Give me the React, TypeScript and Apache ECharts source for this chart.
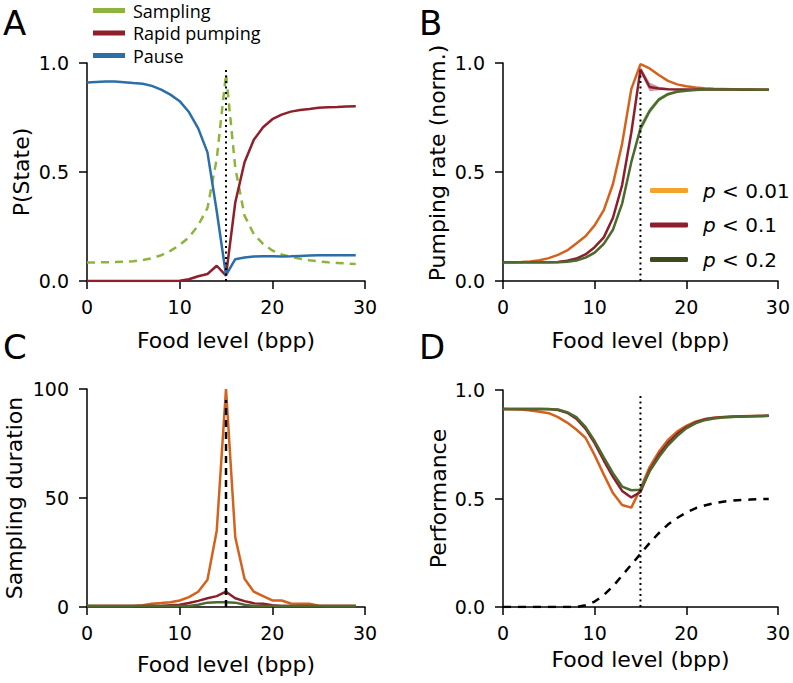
import React, { useEffect, useRef } from "react";
import * as echarts from "echarts";

const foodLevel = [0, 1, 2, 3, 4, 5, 6, 7, 8, 9, 10, 11, 12, 13, 14, 15, 16, 17, 18, 19, 20, 21, 22, 23, 24, 25, 26, 27, 28, 29];

// Panel A: P(State)
const samplingA = [0.085, 0.085, 0.086, 0.087, 0.088, 0.091, 0.096, 0.104, 0.118, 0.138, 0.165, 0.2, 0.255, 0.335, 0.56, 0.95, 0.52, 0.3, 0.215, 0.17, 0.14, 0.122, 0.11, 0.102, 0.095, 0.09, 0.086, 0.083, 0.08, 0.078];
const rapidA = [0, 0, 0, 0, 0, 0, 0, 0, 0, 0, 0.001, 0.008, 0.022, 0.032, 0.07, 0.025, 0.36, 0.545, 0.648, 0.705, 0.742, 0.763, 0.777, 0.784, 0.789, 0.795, 0.797, 0.798, 0.8, 0.802];
const pauseA = [0.911, 0.913, 0.915, 0.915, 0.912, 0.908, 0.905, 0.895, 0.878, 0.855, 0.825, 0.775, 0.7, 0.59, 0.32, 0.027, 0.1, 0.108, 0.112, 0.113, 0.113, 0.112, 0.113, 0.115, 0.117, 0.118, 0.118, 0.118, 0.118, 0.118];
const vlineA = [0, 0.975];

// Panel B: Pumping rate (norm.)
const pumpP001 = [0.086, 0.086, 0.087, 0.089, 0.095, 0.105, 0.12, 0.14, 0.172, 0.205, 0.255, 0.325, 0.445, 0.63, 0.88, 0.995, 0.975, 0.945, 0.918, 0.902, 0.893, 0.888, 0.884, 0.882, 0.881, 0.88, 0.879, 0.878, 0.877, 0.877];
const pumpP01 = [0.086, 0.086, 0.086, 0.086, 0.086, 0.086, 0.087, 0.093, 0.103, 0.122, 0.155, 0.2, 0.29, 0.44, 0.68, 0.97, 0.89, 0.883, 0.88, 0.879, 0.879, 0.879, 0.878, 0.878, 0.878, 0.878, 0.877, 0.877, 0.877, 0.877];
const pumpP02 = [0.086, 0.086, 0.086, 0.086, 0.086, 0.086, 0.086, 0.088, 0.094, 0.107, 0.13, 0.17, 0.235, 0.355, 0.545, 0.7, 0.78, 0.832, 0.857, 0.868, 0.873, 0.876, 0.878, 0.878, 0.878, 0.878, 0.878, 0.878, 0.877, 0.877];
const bandP01 = [0.002, 0.002, 0.002, 0.002, 0.002, 0.002, 0.002, 0.002, 0.003, 0.003, 0.004, 0.004, 0.005, 0.006, 0.008, 0.015, 0.02, 0.008, 0.004, 0.003, 0.002, 0.002, 0.002, 0.002, 0.002, 0.002, 0.002, 0.002, 0.002, 0.002];
const bandP02 = [0.002, 0.002, 0.002, 0.002, 0.002, 0.002, 0.002, 0.003, 0.004, 0.005, 0.006, 0.007, 0.008, 0.009, 0.01, 0.02, 0.015, 0.01, 0.008, 0.005, 0.003, 0.002, 0.002, 0.002, 0.002, 0.002, 0.002, 0.002, 0.002, 0.002];
const vlineB = [0, 0.96];

// Panel C: Sampling duration
const durP001 = [0.5, 0.5, 0.5, 0.5, 0.5, 0.5, 0.8, 1.5, 1.8, 2.2, 3, 4.5, 7, 12.5, 35, 100, 32, 13, 7, 5, 3, 3, 1.6, 1.5, 1.5, 0.6, 0.5, 0.5, 0.5, 0.5];
const durP01 = [0.5, 0.5, 0.5, 0.5, 0.5, 0.5, 0.5, 0.5, 0.5, 0.8, 1, 1.8, 2.8, 4, 5, 7, 4, 2.7, 1.7, 1.5, 0.8, 0.5, 0.5, 0.5, 0.5, 0.5, 0.5, 0.5, 0.5, 0.5];
const durP02 = [0.5, 0.5, 0.5, 0.5, 0.5, 0.5, 0.5, 0.5, 0.5, 0.5, 0.5, 0.5, 1, 2, 2.2, 2.2, 2, 1, 0.5, 0.5, 0.5, 0.5, 0.5, 0.5, 0.5, 0.5, 0.5, 0.5, 0.5, 0.5];
const vlineC = [0, 95];

// Panel D: Performance
const perfP001 = [0.912, 0.911, 0.91, 0.906, 0.9, 0.893, 0.875, 0.85, 0.818, 0.78, 0.7, 0.61, 0.525, 0.47, 0.458, 0.545, 0.645, 0.715, 0.77, 0.808, 0.835, 0.854, 0.866, 0.872, 0.876, 0.878, 0.879, 0.88, 0.88, 0.881];
const perfP01 = [0.912, 0.912, 0.912, 0.912, 0.912, 0.912, 0.908, 0.895, 0.868, 0.822, 0.755, 0.675, 0.6, 0.535, 0.505, 0.53, 0.63, 0.7, 0.755, 0.797, 0.828, 0.85, 0.864, 0.871, 0.875, 0.877, 0.878, 0.879, 0.88, 0.881];
const perfP02 = [0.912, 0.912, 0.912, 0.912, 0.912, 0.911, 0.91, 0.898, 0.875, 0.83, 0.765, 0.69, 0.617, 0.555, 0.538, 0.54, 0.625, 0.69, 0.745, 0.788, 0.823, 0.846, 0.861, 0.869, 0.873, 0.876, 0.878, 0.879, 0.88, 0.881];
const perfBaseline = [0, 0, 0, 0, 0, 0, 0, 0, 0, 0.008, 0.025, 0.055, 0.095, 0.145, 0.195, 0.245, 0.295, 0.34, 0.38, 0.41, 0.435, 0.455, 0.468, 0.478, 0.485, 0.49, 0.493, 0.495, 0.497, 0.498];
const vlineD = [0, 0.977];

const xTicks = { min: 0, max: 30, interval: 10 };
const legendA = ["Sampling", "Rapid pumping", "Pause"];
const legendB = ["p < 0.01", "p < 0.1", "p < 0.2"];

const FONT = "'DejaVu Sans', sans-serif";
const C_SAMPLING = "#8db43c";
const C_RAPID = "#8e1f2b";
const C_PAUSE = "#2c6ea7";
const C_ORANGE = "#d4621c";
const C_ORANGE_LEG = "#f5a328";
const C_RED = "#8b1f2d";
const C_GREEN = "#4d6a2e";
const C_GREEN_LEG = "#3a4a1d";

const pairs = (ys: number[]) => ys.map((y, i) => [foodLevel[i], y]);
const vpairs = (ys: number[]) => ys.map((y) => [15, y]);

export default function App() {
  const ref = useRef<HTMLDivElement>(null);
  useEffect(() => {
    const chart = echarts.init(ref.current!, null, { renderer: "svg" });

    const grids = [
      { left: 87, top: 63, width: 278, height: 218 },
      { left: 503, top: 63, width: 279, height: 218 },
      { left: 87, top: 389, width: 278, height: 218 },
      { left: 503, top: 390, width: 279, height: 217 },
    ];

    const axisCommon = {
      axisLine: { show: true, onZero: false, lineStyle: { color: "#000", width: 1.5 } },
      axisTick: { show: true, length: 8, lineStyle: { color: "#000", width: 1.5 } },
      splitLine: { show: false },
      nameLocation: "middle",
    };

    const xAxes = [48, 48, 46, 41].map((gap, i) => ({
      ...axisCommon,
      type: "value",
      gridIndex: i,
      ...xTicks,
      name: "Food level (bpp)",
      nameGap: gap,
      nameTextStyle: { fontSize: 22, fontFamily: FONT, color: "#000" },
      axisLabel: { fontSize: 19, fontFamily: FONT, color: "#000", margin: 16 },
    }));

    const yNames = ["P(State)", "Pumping rate (norm.)", "Sampling duration", "Performance"];
    const yGaps = [55, 55, 62, 54];
    const yPads = [
      [0, 0, 0, 0],
      [0, 0, 0, 18],
      [0, 0, 0, 0],
      [0, 0, 0, 0],
    ];
    const yAxes = yNames.map((name, i) => ({
      ...axisCommon,
      type: "value",
      gridIndex: i,
      min: 0,
      max: i === 2 ? 100 : 1,
      interval: i === 2 ? 50 : 0.5,
      name,
      nameGap: yGaps[i],
      nameTextStyle: { fontSize: 22, fontFamily: FONT, color: "#000", padding: yPads[i] },
      axisLabel: {
        fontSize: 19,
        fontFamily: FONT,
        color: "#000",
        margin: 18,
        formatter: (v: number) => (i === 2 ? String(v) : v.toFixed(1)),
      },
    }));

    const line = (name: string, data: number[], color: string, gi: number, extra: any = {}) => ({
      type: "line",
      name,
      data: pairs(data),
      xAxisIndex: gi,
      yAxisIndex: gi,
      symbol: "none",
      color,
      itemStyle: { color },
      lineStyle: { color, width: 2.5, ...(extra.lineStyle || {}) },
      z: extra.z ?? 2,
    });

    const vline = (data: number[], gi: number, type: any, width: number) => ({
      type: "line",
      data: vpairs(data),
      xAxisIndex: gi,
      yAxisIndex: gi,
      symbol: "none",
      lineStyle: { color: "#000", width, type, cap: "butt" },
      z: 5,
      silent: true,
    });

    const band = (center: number[], half: number[], color: string, gi: number) => ({
      type: "custom",
      xAxisIndex: gi,
      yAxisIndex: gi,
      data: pairs(center),
      silent: true,
      z: 1,
      renderItem: (params: any, api: any) => {
        if (params.dataIndex !== 0) return null;
        const upper = center.map((c, i) => api.coord([foodLevel[i], c + half[i]]));
        const lower = center.map((c, i) => api.coord([foodLevel[i], c - half[i]])).reverse();
        return {
          type: "polygon",
          shape: { points: upper.concat(lower) },
          style: { fill: color },
        };
      },
    });

    const legendDummy = (name: string, color: string) => ({
      type: "line",
      name,
      data: [],
      xAxisIndex: 1,
      yAxisIndex: 1,
      symbol: "none",
      color,
      itemStyle: { color },
      lineStyle: { color, width: 4 },
    });

    const option: any = {
      animation: false,
      backgroundColor: "#fff",
      grid: grids,
      xAxis: xAxes,
      yAxis: yAxes,
      legend: [
        {
          data: legendA,
          orient: "vertical",
          left: 93,
          top: 1,
          padding: 0,
          itemWidth: 32,
          itemHeight: 5,
          itemGap: 3.5,
          icon: "rect",
          selectedMode: false,
          textStyle: { fontSize: 18, lineHeight: 19, fontFamily: "'Open Sans', sans-serif", color: "#000", padding: [0, 0, 0, 3] },
        },
        {
          data: legendB,
          orient: "vertical",
          left: 650,
          top: 179,
          padding: 0,
          itemWidth: 38,
          itemHeight: 5,
          itemGap: 11.5,
          icon: "roundRect",
          selectedMode: false,
          formatter: (n: string) => `{i|p}{n| < ${n.split("<")[1].trim()}}`,
          textStyle: {
            fontSize: 20,
            lineHeight: 23,
            fontFamily: FONT,
            color: "#000",
            padding: [0, 0, 0, 10],
            rich: {
              i: { fontSize: 20, fontStyle: "italic", fontFamily: FONT, color: "#000" },
              n: { fontSize: 20, fontFamily: FONT, color: "#000" },
            },
          },
        },
      ],
      graphic: [
        { type: "text", x: 3, y: 6, style: { text: "A", fontSize: 34, fontFamily: FONT, fill: "#000" } },
        { type: "text", x: 419, y: 6, style: { text: "B", fontSize: 34, fontFamily: FONT, fill: "#000" } },
        { type: "text", x: 3, y: 330, style: { text: "C", fontSize: 34, fontFamily: FONT, fill: "#000" } },
        { type: "text", x: 419, y: 330, style: { text: "D", fontSize: 34, fontFamily: FONT, fill: "#000" } },
      ],
      series: [
        // A
        line("Sampling", samplingA, C_SAMPLING, 0, { lineStyle: { type: [8, 6] } }),
        line("Rapid pumping", rapidA, C_RAPID, 0),
        line("Pause", pauseA, C_PAUSE, 0, { z: 3 }),
        vline(vlineA, 0, [2, 3.5], 2),
        // B
        band(pumpP01, bandP01, "rgba(175,90,110,0.6)", 1),
        band(pumpP02, bandP02, "rgba(125,165,95,0.6)", 1),
        line("B p001", pumpP001, C_ORANGE, 1),
        line("B p01", pumpP01, C_RED, 1),
        line("B p02", pumpP02, C_GREEN, 1),
        vline(vlineB, 1, [2, 3.5], 2),
        legendDummy("p < 0.01", C_ORANGE_LEG),
        legendDummy("p < 0.1", C_RED),
        legendDummy("p < 0.2", C_GREEN_LEG),
        // C
        line("C p001", durP001, C_ORANGE, 2),
        line("C p01", durP01, C_RED, 2),
        line("C p02", durP02, C_GREEN, 2),
        vline(vlineC, 2, [7, 5], 2.5),
        // D
        line("D p001", perfP001, C_ORANGE, 3),
        line("D p01", perfP01, C_RED, 3),
        line("D p02", perfP02, C_GREEN, 3),
        line("D baseline", perfBaseline, "#000", 3, { lineStyle: { type: [8, 7] } }),
        vline(vlineD, 3, [2, 3.5], 2),
      ],
    };

    chart.setOption(option);
    return () => chart.dispose();
  }, []);

  return <div ref={ref} style={{ position: "fixed", left: 0, top: 0, width: 793, height: 683 }} />;
}
